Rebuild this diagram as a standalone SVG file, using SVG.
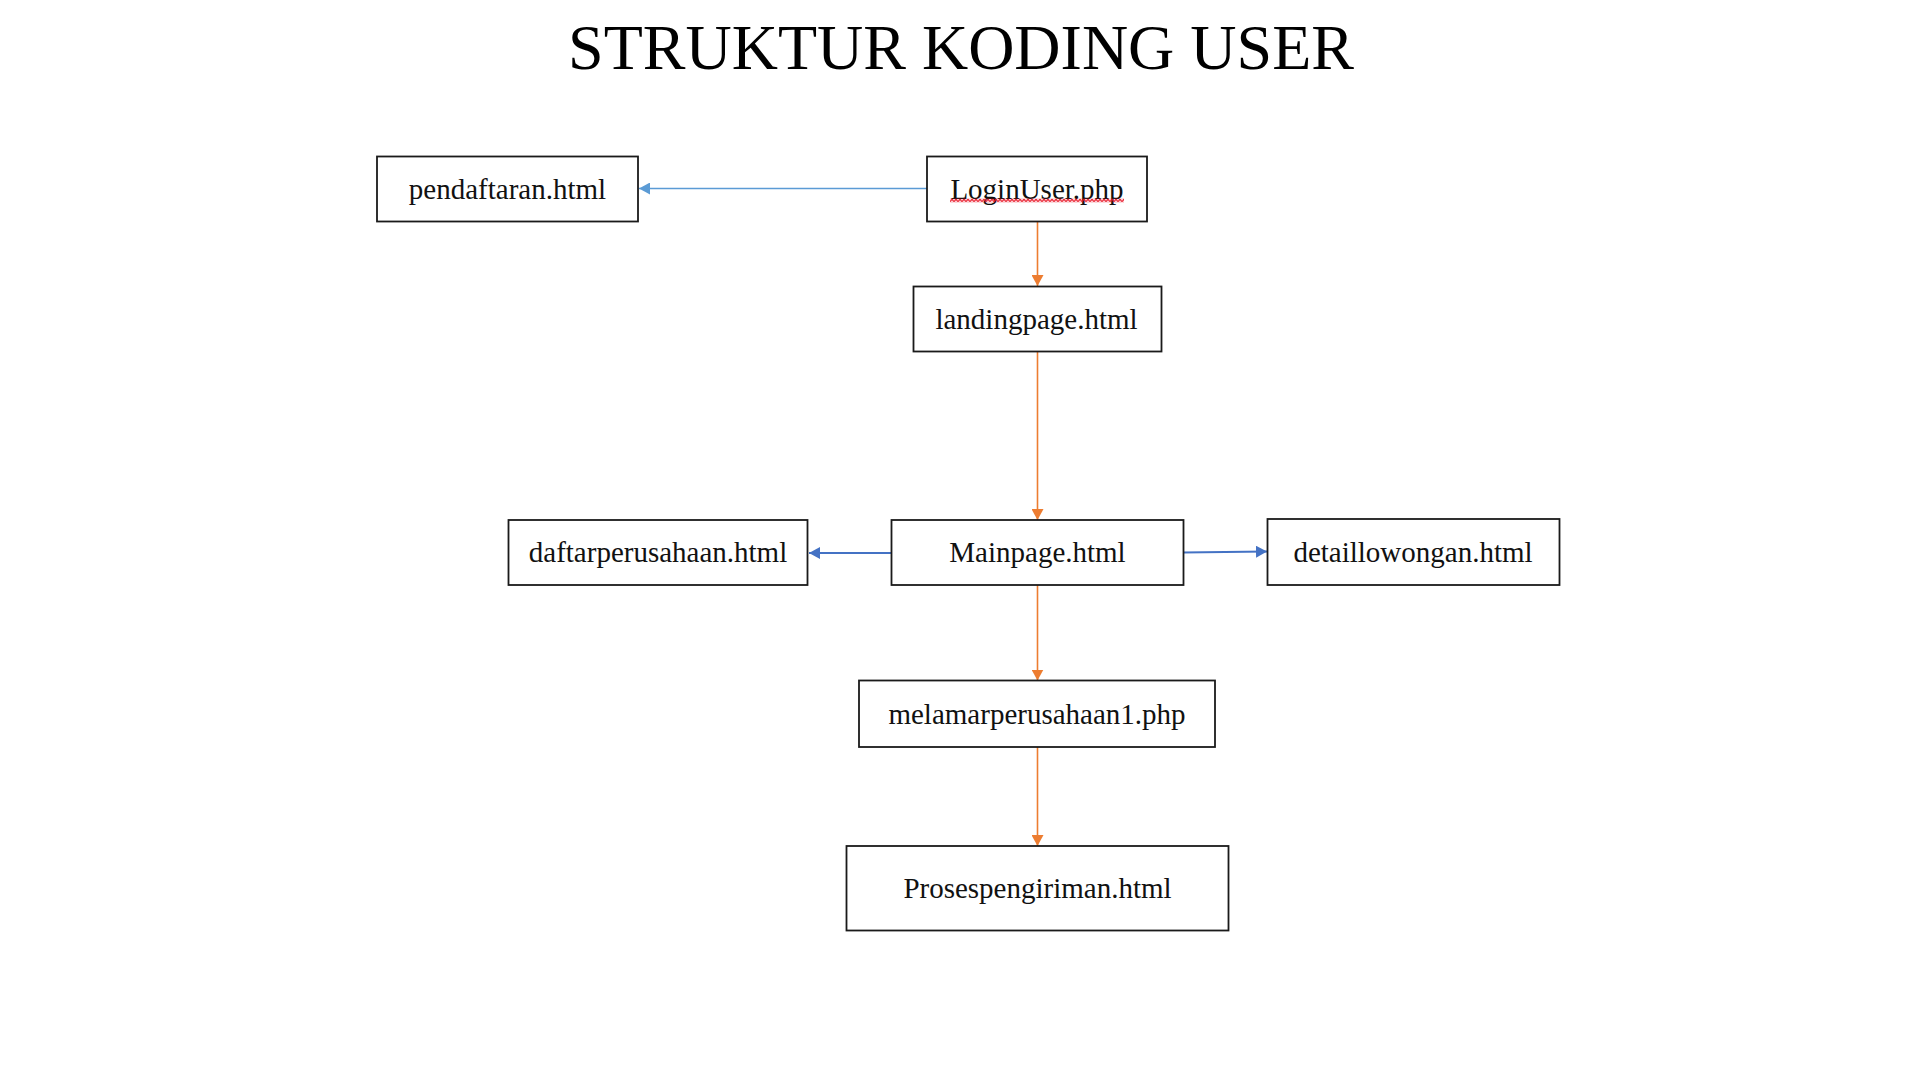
<svg xmlns="http://www.w3.org/2000/svg" width="1920" height="1080" viewBox="0 0 1920 1080">
  <style>
    .box { fill: #ffffff; stroke: #1a1a1a; stroke-width: 1.8; }
    .lbl { font-family: "Liberation Serif", "Times New Roman", serif; font-size: 29px; fill: #111111; text-anchor: middle; }
    .title { font-family: "Liberation Serif", "Times New Roman", serif; font-size: 64px; fill: #000000; text-anchor: middle; }
    .orange { stroke: #ED7D31; stroke-width: 1.6; fill: none; marker-end: url(#arrOrange); }
    .blue { stroke: #4472C4; stroke-width: 1.8; fill: none; marker-end: url(#arrBlue); }
    .lblue { stroke: #5B9BD5; stroke-width: 1.6; fill: none; marker-end: url(#arrLBlue); }
  </style>
  <defs>
    <marker id="arrOrange" markerUnits="userSpaceOnUse" markerWidth="12" markerHeight="12" refX="11" refY="6" orient="auto">
      <path d="M0,0 L11,6 L0,12 Z" fill="#ED7D31"/>
    </marker>
    <marker id="arrBlue" markerUnits="userSpaceOnUse" markerWidth="12" markerHeight="12" refX="11" refY="6" orient="auto">
      <path d="M0,0 L11,6 L0,12 Z" fill="#4472C4"/>
    </marker>
    <marker id="arrLBlue" markerUnits="userSpaceOnUse" markerWidth="12" markerHeight="12" refX="11" refY="6" orient="auto">
      <path d="M0,0 L11,6 L0,12 Z" fill="#5B9BD5"/>
    </marker>
    <pattern id="squiggle" patternUnits="userSpaceOnUse" x="950" y="198.5" width="4" height="4">
      <polyline points="0,3.4 2,0.6 4,3.4" fill="none" stroke="#E81123" stroke-width="1.3"/>
    </pattern>
  </defs>
  <rect x="0" y="0" width="1920" height="1080" fill="#ffffff"/>

  <text class="title" x="961" y="69">STRUKTUR KODING USER</text>

  <g id="connectors">
    <line class="lblue" x1="927" y1="188.5" x2="639" y2="188.5"/>
    <line class="orange" x1="1037.5" y1="222" x2="1037.5" y2="286"/>
    <line class="orange" x1="1037.5" y1="352" x2="1037.5" y2="520"/>
    <line class="blue" x1="891" y1="553" x2="809" y2="553"/>
    <line class="blue" x1="1183" y1="552.5" x2="1267" y2="551.5"/>
    <line class="orange" x1="1037.5" y1="585" x2="1037.5" y2="680.5"/>
    <line class="orange" x1="1037.5" y1="747" x2="1037.5" y2="846"/>
  </g>

  <g id="node-pendaftaran">
    <rect class="box" x="377" y="156.5" width="261" height="65"/>
    <text class="lbl" x="507.5" y="198.5">pendaftaran.html</text>
  </g>
  <g id="node-loginuser">
    <rect class="box" x="927" y="156.5" width="220" height="65"/>
    <text class="lbl" x="1037" y="198.5">LoginUser.php</text>
    <rect x="950" y="198.5" width="174" height="4" fill="url(#squiggle)"/>
  </g>
  <g id="node-landingpage">
    <rect class="box" x="913.5" y="286.5" width="248" height="65"/>
    <text class="lbl" x="1036.5" y="328.5">landingpage.html</text>
  </g>
  <g id="node-daftarperusahaan">
    <rect class="box" x="508.5" y="520" width="299" height="65"/>
    <text class="lbl" x="658" y="562">daftarperusahaan.html</text>
  </g>
  <g id="node-mainpage">
    <rect class="box" x="891.5" y="520" width="292" height="65"/>
    <text class="lbl" x="1037.5" y="562">Mainpage.html</text>
  </g>
  <g id="node-detaillowongan">
    <rect class="box" x="1267.5" y="519" width="292" height="66"/>
    <text class="lbl" x="1413" y="562">detaillowongan.html</text>
  </g>
  <g id="node-melamar">
    <rect class="box" x="859" y="680.5" width="356" height="66.5"/>
    <text class="lbl" x="1037" y="724">melamarperusahaan1.php</text>
  </g>
  <g id="node-prosespengiriman">
    <rect class="box" x="846.5" y="846" width="382" height="84.5"/>
    <text class="lbl" x="1037.5" y="897.5">Prosespengiriman.html</text>
  </g>
</svg>
